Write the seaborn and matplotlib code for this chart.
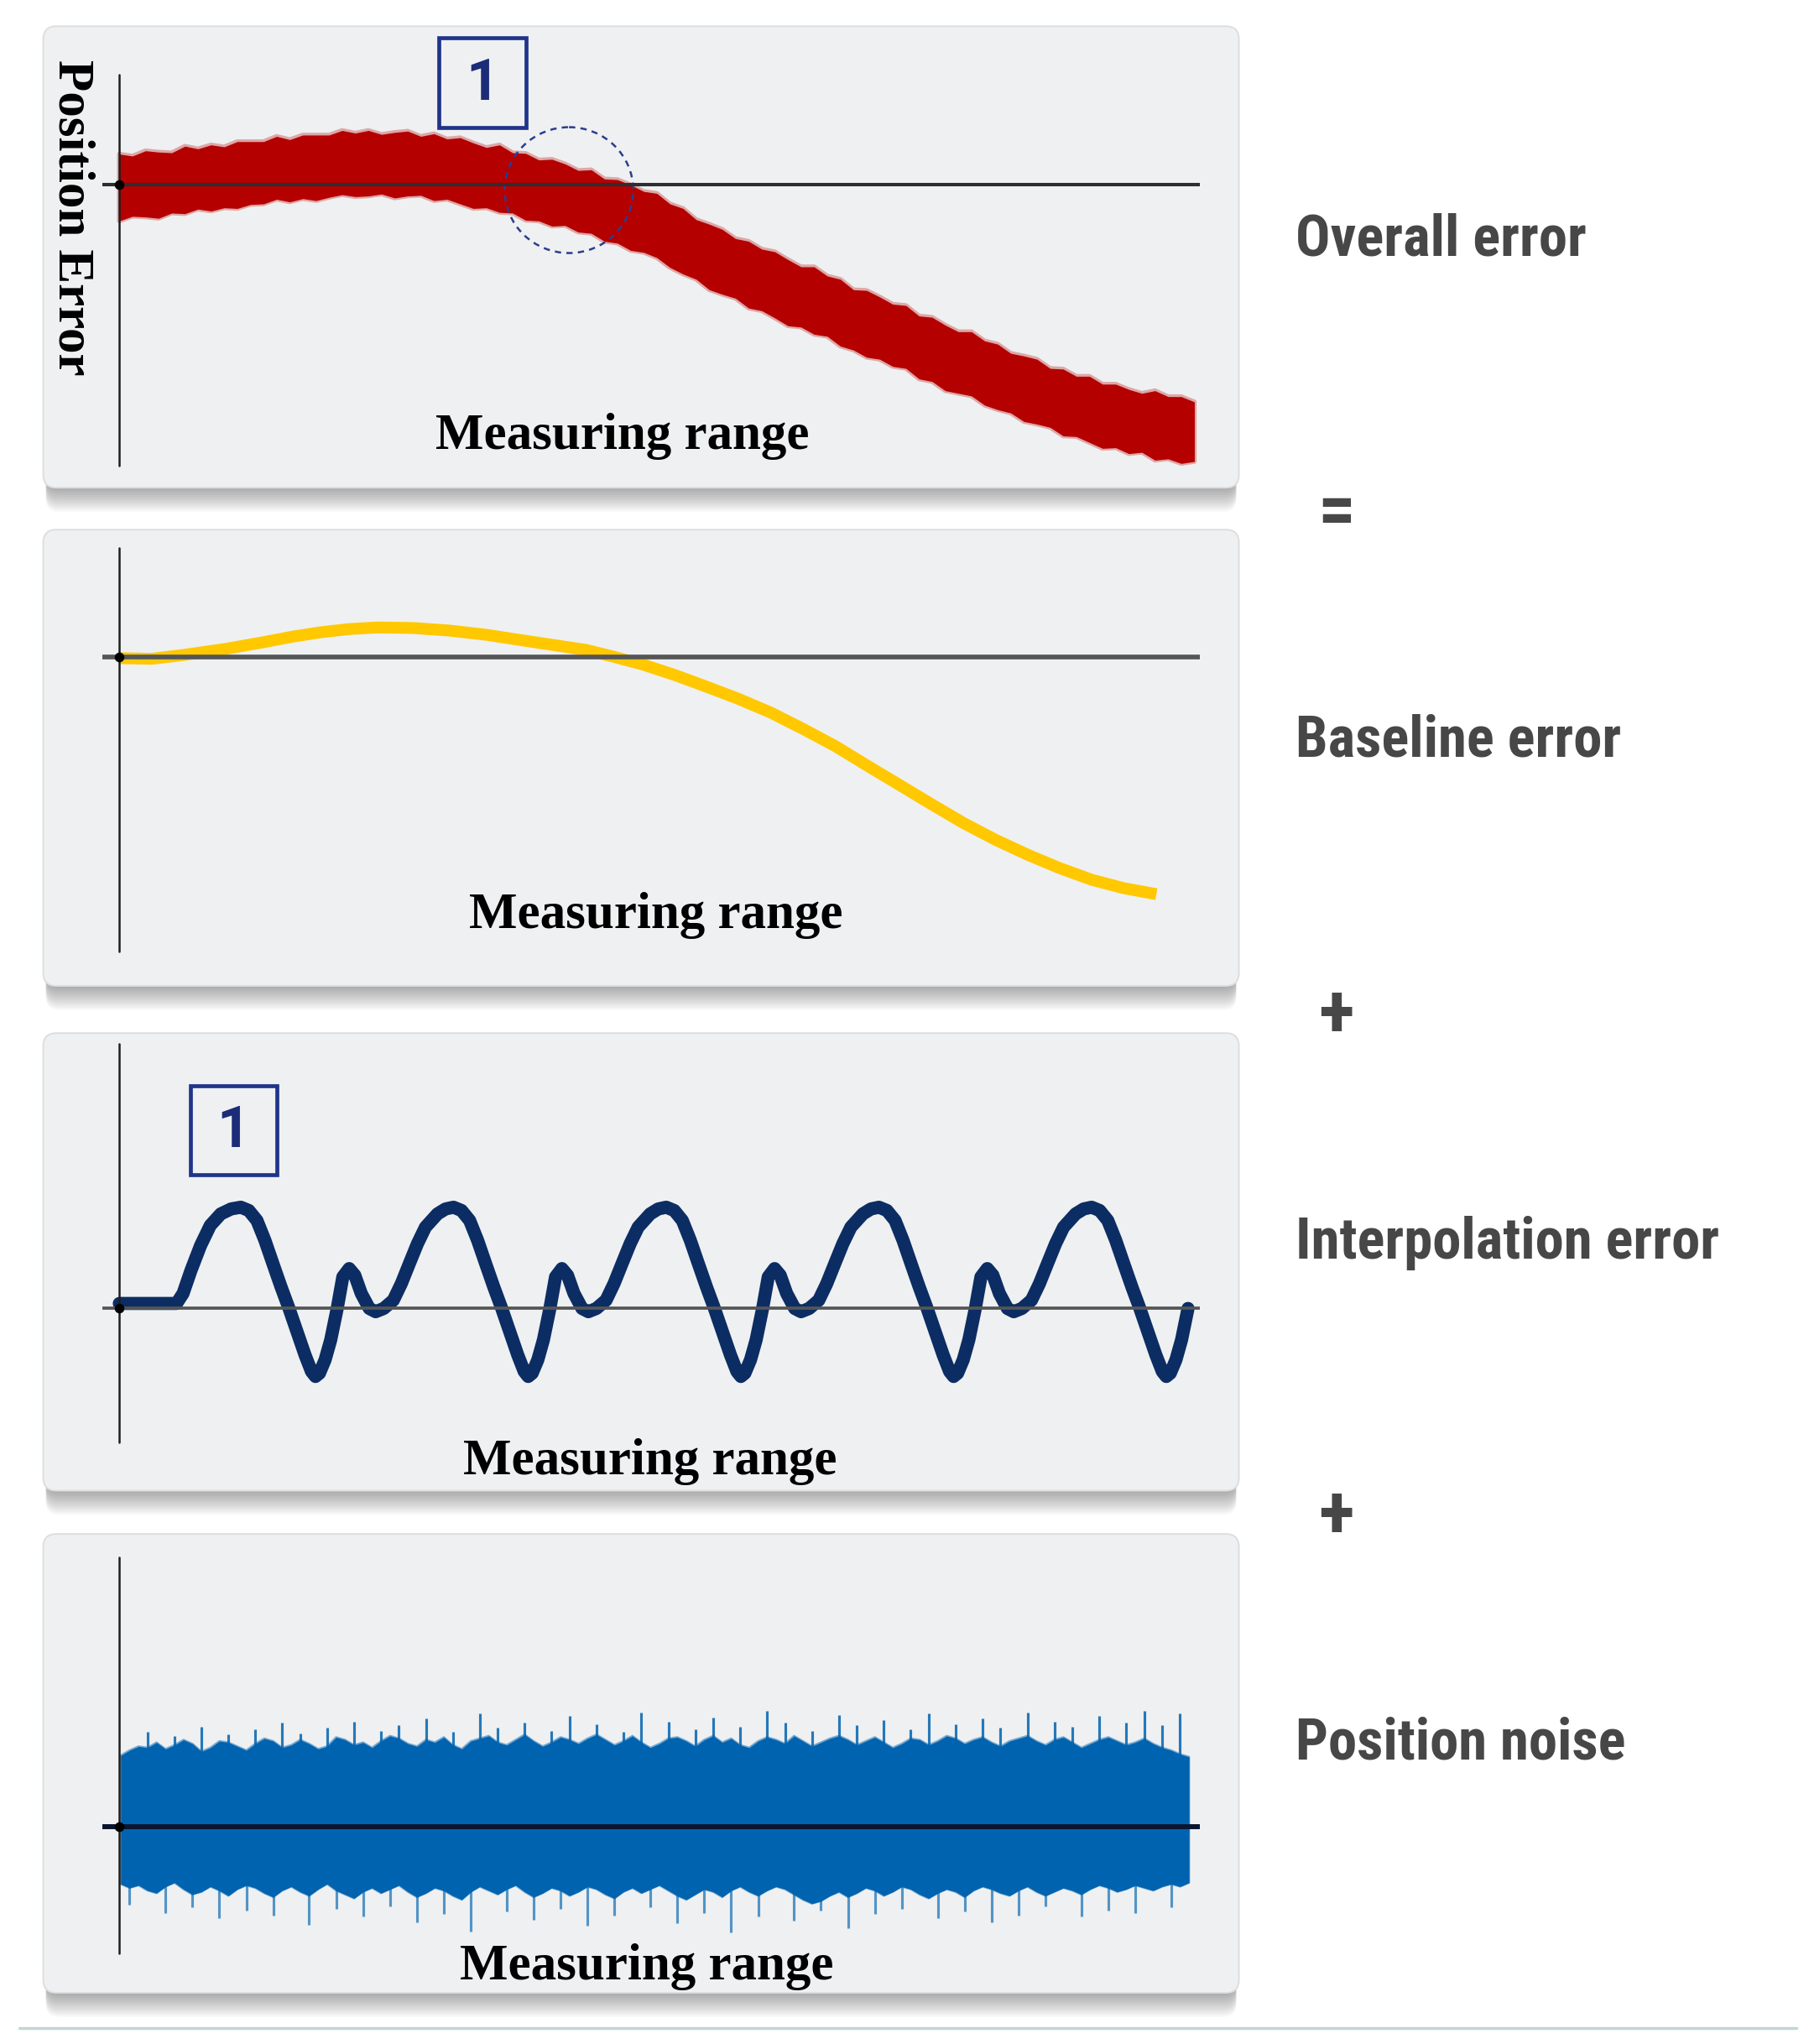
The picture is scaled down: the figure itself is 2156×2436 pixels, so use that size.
import numpy as np
import matplotlib
matplotlib.use('Agg')
import matplotlib.pyplot as plt
from matplotlib import font_manager
from matplotlib.patches import FancyBboxPatch, Rectangle, Ellipse
import seaborn as sns

# ---------------- data ----------------
# overall error: jagged red band, one sample every ~10 px of the range
red_upper = [2.35, 2.2, 2.6, 2.5, 2.45, 2.95, 2.75, 3.05, 2.9, 3.3, 3.3, 3.3, 3.7, 3.45, 3.8,
             3.8, 3.8, 4.15, 3.95, 4.15, 3.85, 4.0, 4.1, 3.7, 3.9, 3.5, 3.6, 3.2, 2.85, 3.05,
             2.45, 2.4, 1.9, 1.95, 1.6, 1.1, 1.15, 0.45, 0.4, 0.0, -0.5, -0.65, -1.45, -1.8,
             -2.65, -3.0, -3.4, -4.1, -4.3, -4.9, -5.1, -5.7, -6.25, -6.25, -6.95, -7.2, -8.0,
             -8.05, -8.55, -9.1, -9.2, -10.0, -10.1, -10.7, -11.2, -11.2, -11.9, -12.15, -12.85,
             -13.05, -13.3, -14.0, -14.05, -14.6, -14.6, -15.2, -15.2, -15.6, -15.9, -15.7,
             -16.15, -16.15, -16.55]
red_lower = [-2.75, -2.4, -2.45, -2.55, -2.15, -2.2, -1.85, -2.0, -1.75, -1.8, -1.5, -1.45,
             -1.1, -1.3, -1.05, -1.2, -0.95, -0.75, -0.9, -0.85, -0.7, -1.0, -0.85, -0.8, -1.2,
             -1.1, -1.45, -1.8, -1.75, -2.1, -2.15, -2.7, -2.75, -3.15, -3.1, -3.6, -3.7, -4.3,
             -4.45, -5.0, -5.15, -5.55, -6.3, -6.8, -7.2, -8.0, -8.35, -8.65, -9.4, -9.6, -10.15,
             -10.75, -10.85, -11.4, -11.55, -12.3, -12.6, -13.15, -13.3, -13.85, -14.0, -14.8,
             -15.0, -15.7, -15.9, -16.1, -16.8, -17.15, -17.4, -18.05, -18.25, -18.5, -19.15,
             -19.2, -19.65, -20.1, -20.05, -20.5, -20.4, -21.0, -20.9, -21.25, -21.1]

# baseline error (measuring range 0..100)
base_x = [0.1, 3.0, 6.1, 9.8, 13.5, 16.1, 18.7, 21.3, 23.9, 27.2, 30.6, 34.0, 37.3, 40.2, 43.2,
          45.8, 48.4, 51.4, 54.4, 57.3, 60.3, 63.3, 66.3, 69.2, 72.2, 75.2, 78.2, 81.1, 84.1,
          87.0, 90.0, 93.0, 96.0]
base_y = [-0.1, -0.15, 0.16, 0.6, 1.14, 1.55, 1.88, 2.12, 2.24, 2.2, 2.0, 1.68, 1.26, 0.9,
          0.53, 0.0, -0.57, -1.38, -2.29, -3.2, -4.25, -5.5, -6.82, -8.28, -9.76, -11.25,
          -12.7, -13.95, -15.1, -16.1, -17.0, -17.65, -18.1]

# interpolation error (measuring range 0..100)
interp_x = [0.0, 5.30, 5.90, 6.64, 7.53, 8.42, 9.39, 10.35,
            11.25, 11.99, 12.74, 13.48, 14.22, 14.97, 15.71, 16.45, 17.19, 17.79, 18.16, 18.53,
            19.05, 19.57, 20.17, 20.69, 21.28, 21.80, 22.40, 23.14, 23.73, 24.48, 25.37, 26.11,
            26.85, 27.60, 28.34, 29.45, 30.20,
            30.94, 31.68, 32.43, 33.17, 33.91, 34.66, 35.40, 36.14, 36.88, 37.48, 37.85, 38.22,
            38.74, 39.26, 39.86, 40.38, 40.97, 41.49, 42.09, 42.83, 43.42, 44.17, 45.06, 45.80,
            46.54, 47.29, 48.03, 49.14, 49.89,
            50.63, 51.37, 52.12, 52.86, 53.60, 54.35, 55.09, 55.83, 56.57, 57.17, 57.54, 57.91,
            58.43, 58.95, 59.55, 60.07, 60.66, 61.18, 61.78, 62.52, 63.11, 63.86, 64.75, 65.49,
            66.23, 66.98, 67.72, 68.83, 69.58,
            70.32, 71.06, 71.81, 72.55, 73.29, 74.04, 74.78, 75.52, 76.26, 76.86, 77.23, 77.60,
            78.12, 78.64, 79.24, 79.76, 80.35, 80.87, 81.47, 82.21, 82.80, 83.55, 84.44, 85.18,
            85.92, 86.67, 87.41, 88.52, 89.27,
            90.01, 90.75, 91.50, 92.24, 92.98, 93.73, 94.47, 95.21, 95.95, 96.55, 96.92, 97.29,
            97.81, 98.33, 98.93]
interp_y = [0.38, 0.38, 1.14, 2.91, 4.81, 6.33, 7.21, 7.59,
            7.72, 7.47, 6.71, 5.19, 3.42, 1.65, 0.0, -1.77, -3.54, -4.81, -5.19, -4.94, -3.92,
            -2.40, 0.0, 2.40, 3.04, 2.53, 1.14, 0.0, -0.25, 0.0, 0.63, 1.90, 3.42, 4.94, 6.20,
            7.21, 7.59,
            7.72, 7.47, 6.71, 5.19, 3.42, 1.65, 0.0, -1.77, -3.54, -4.81, -5.19, -4.94, -3.92,
            -2.40, 0.0, 2.40, 3.04, 2.53, 1.14, 0.0, -0.25, 0.0, 0.63, 1.90, 3.42, 4.94, 6.20,
            7.21, 7.59,
            7.72, 7.47, 6.71, 5.19, 3.42, 1.65, 0.0, -1.77, -3.54, -4.81, -5.19, -4.94, -3.92,
            -2.40, 0.0, 2.40, 3.04, 2.53, 1.14, 0.0, -0.25, 0.0, 0.63, 1.90, 3.42, 4.94, 6.20,
            7.21, 7.59,
            7.72, 7.47, 6.71, 5.19, 3.42, 1.65, 0.0, -1.77, -3.54, -4.81, -5.19, -4.94, -3.92,
            -2.40, 0.0, 2.40, 3.04, 2.53, 1.14, 0.0, -0.25, 0.0, 0.63, 1.90, 3.42, 4.94, 6.20,
            7.21, 7.59,
            7.72, 7.47, 6.71, 5.19, 3.42, 1.65, 0.0, -1.77, -3.54, -4.81, -5.19, -4.94, -3.92,
            -2.40, 0.0]

# position noise: envelope per sample plus the tall single spikes
noise_upper = [5.4, 5.8, 6.1, 6.0, 6.4, 5.9, 6.2, 6.6, 6.3, 5.7,
               6.0, 6.5, 6.4, 6.1, 5.8, 6.3, 6.7, 6.5, 6.0, 6.2,
               6.6, 6.3, 5.9, 6.1, 6.8, 6.6, 6.2, 6.4, 6.0, 6.5,
               6.9, 6.7, 6.3, 6.1, 6.6, 6.4, 6.8, 6.2, 5.9, 6.5,
               6.7, 6.9, 6.4, 6.2, 6.6, 7.0, 6.5, 6.1, 6.4, 6.8,
               6.6, 6.3, 6.7, 7.0, 6.6, 6.2, 6.5, 6.9, 6.4, 6.0,
               6.3, 6.7, 6.8, 6.5, 6.1, 6.6, 6.9, 6.4, 6.7, 6.2,
               6.0, 6.5, 6.8, 6.6, 6.3, 6.9, 6.5, 6.1, 6.4, 6.7,
               6.9, 6.6, 6.2, 6.5, 6.8, 6.4, 6.0, 6.3, 6.7, 6.6,
               6.2, 6.5, 6.9, 6.7, 6.3, 6.6, 6.8, 6.4, 6.1, 6.5,
               6.7, 6.9, 6.5, 6.2, 6.6, 6.8, 6.4, 6.0, 6.3, 6.6,
               6.8, 6.5, 6.2, 6.4, 6.7, 6.3, 6.0, 5.8, 5.5, 5.3]
noise_lower = [-4.4, -4.7, -4.5, -4.9, -5.1, -4.6, -4.3, -4.8, -5.2, -5.0,
               -4.6, -4.9, -5.3, -4.8, -4.5, -4.7, -5.1, -5.4, -4.9, -4.6,
               -5.0, -5.3, -4.8, -4.4, -4.9, -5.2, -5.5, -5.0, -4.7, -5.1,
               -4.8, -4.5, -5.0, -5.4, -5.1, -4.7, -4.9, -5.3, -5.6, -5.0,
               -4.6, -4.9, -5.2, -4.8, -4.5, -5.0, -5.4, -5.1, -4.7, -4.9,
               -5.3, -5.0, -4.6, -4.8, -5.2, -5.5, -5.0, -4.7, -5.1, -4.8,
               -4.5, -4.9, -5.3, -5.6, -5.2, -4.8, -5.0, -5.4, -4.9, -4.6,
               -5.0, -5.3, -4.9, -4.6, -4.8, -5.2, -5.6, -5.9, -5.7, -5.3,
               -5.0, -5.4, -5.1, -4.7, -4.9, -5.3, -5.0, -4.6, -4.8, -5.2,
               -5.5, -5.1, -4.8, -5.0, -5.4, -4.9, -4.6, -4.8, -5.1, -5.3,
               -4.9, -4.6, -5.0, -5.3, -5.0, -4.7, -4.9, -5.2, -4.8, -4.5,
               -4.7, -5.0, -4.8, -4.5, -4.7, -4.9, -4.6, -4.4, -4.6, -4.3]
spike_up_idx = [3, 6, 9, 12, 15, 18, 20, 23, 26, 29, 31, 34, 37, 40, 42, 45, 48, 50, 53, 56,
                58, 61, 64, 66, 69, 72, 74, 77, 80, 82, 85, 88, 90, 93, 96, 98, 101, 104, 106,
                109, 112, 114, 116, 118]
spike_up_val = [7.2, 6.9, 7.6, 7.0, 7.4, 7.9, 7.1, 7.5, 8.0, 7.3, 7.7, 8.2, 7.2, 8.6, 7.5, 7.9,
                7.3, 8.4, 7.8, 7.2, 8.7, 8.0, 7.4, 8.3, 7.6, 8.8, 7.9, 7.3, 8.5, 7.7, 8.1, 7.4,
                8.6, 7.8, 8.2, 7.5, 8.7, 8.0, 7.6, 8.4, 7.9, 8.8, 7.7, 8.6]
spike_dn_idx = [1, 5, 8, 11, 14, 17, 21, 24, 27, 30, 33, 36, 39, 43, 46, 49, 52, 55, 59, 62,
                65, 68, 71, 75, 78, 81, 84, 87, 91, 94, 97, 100, 103, 107, 110, 113, 117]
spike_dn_val = [-6.0, -6.6, -6.2, -7.0, -6.4, -6.8, -7.5, -6.3, -6.9, -6.1, -7.3, -6.7, -8.0,
                -6.5, -7.1, -6.3, -7.6, -6.8, -6.2, -7.4, -6.6, -8.1, -6.9, -7.2, -6.4, -7.8,
                -6.7, -6.3, -7.0, -6.5, -7.3, -6.8, -6.1, -6.9, -6.4, -6.6, -6.2]

row_labels = ['Overall error', 'Baseline error', 'Interpolation error', 'Position noise']
row_ops = ['=', '+', '+']
axis_text = 'Measuring range'
y_text = 'Position Error'

# ---------------- layout (in screen units of the reference) ----------------
W, H = 2156 / 1.5625, 2436 / 1.5625
S = 1.125   # points per screen unit
box_l, box_r = 33, 945
p_top = [20, 404, 788, 1170]
p_bot = [372, 752, 1137, 1520]
p_zero = [141, 501, 998, 1393]
ax_top = [57, 418, 796, 1188]
ax_bot = [355, 726, 1100, 1490]
label_y = [183, 565, 948, 1330]
op_y = [392, 775, 1157]
mr_pos = [(475, 333), (500, 698), (496, 1115), (493, 1500)]

sns.set_theme(style='white')
names = {f.name for f in font_manager.fontManager.ttflist}
if 'Liberation Sans Narrow' in names:
    lab_font, lab_size = 'Liberation Sans Narrow', 44 * S
elif 'Roboto Condensed' in names:
    lab_font, lab_size = 'Roboto Condensed', 44 * S
else:
    lab_font, lab_size = 'Roboto', 39 * S
plt.rcParams['font.family'] = ['DejaVu Sans']

fig = plt.figure(figsize=(21.56, 24.36), dpi=100)
fig.patch.set_facecolor('white')

bg = fig.add_axes([0, 0, 1, 1])
bg.set_xlim(0, W)
bg.set_ylim(H, 0)
bg.axis('off')

for t, b in zip(p_top, p_bot):
    for k in range(10):
        off = 2 + k * 1.8
        bg.add_patch(FancyBboxPatch((box_l + 2, t + off), box_r - box_l - 4, b - t,
                                    boxstyle='round,pad=0,rounding_size=10',
                                    facecolor='black', alpha=0.035, lw=0))
    bg.add_patch(FancyBboxPatch((box_l, t), box_r - box_l, b - t,
                                boxstyle='round,pad=0,rounding_size=10',
                                facecolor='#eff0f1', edgecolor='#dcdddf', lw=1.2 * S))


def data_axes(i, x0, dx):
    # x0: screen x of data x=0, dx: screen units per data unit, y: 10 units per data unit
    ax = fig.add_axes([box_l / W, 1 - p_bot[i] / H, (box_r - box_l) / W, (p_bot[i] - p_top[i]) / H])
    ax.set_xlim((box_l - x0) / dx, (box_r - x0) / dx)
    ax.set_ylim((p_zero[i] - p_bot[i]) / 10, (p_zero[i] - p_top[i]) / 10)
    ax.axis('off')
    ax.patch.set_alpha(0)
    return ax


# overall error
ax1 = data_axes(0, 91, 10)
red_idx = np.arange(len(red_upper))
ax1.fill_between(red_idx, red_lower, red_upper, facecolor='none', edgecolor='#b50000',
                 lw=3.5 * S, alpha=0.3)
ax1.fill_between(red_idx, red_lower, red_upper, color='#b50000', lw=0)

# baseline error
ax2 = data_axes(1, 91, 8.24)
sns.lineplot(x=base_x, y=base_y, ax=ax2, color='#ffc800', linewidth=9 * S, sort=False,
             estimator=None, legend=False, solid_capstyle='butt', solid_joinstyle='round')

# interpolation error
ax3 = data_axes(2, 91, 8.24)
sns.lineplot(x=interp_x, y=interp_y, ax=ax3, color='#0c2d63', linewidth=10 * S, sort=False,
             estimator=None, legend=False, solid_capstyle='round', solid_joinstyle='round')

# position noise
ax4 = data_axes(3, 92, 815 / (len(noise_upper) - 1))
n_idx = np.arange(len(noise_upper))
ax4.fill_between(n_idx, noise_lower, noise_upper, facecolor='none', edgecolor='#0063af',
                 lw=1.5 * S, alpha=0.5)
ax4.fill_between(n_idx, noise_lower, noise_upper, color='#0063af', lw=0)
ax4.vlines(spike_up_idx, 0, spike_up_val, color='#0063af', lw=2 * S, alpha=0.85)
ax4.vlines(spike_dn_idx, 0, spike_dn_val, color='#0063af', lw=2 * S, alpha=0.65)

# ---------------- overlay: axes lines, markers, text ----------------
ov = fig.add_axes([0, 0, 1, 1])
ov.set_xlim(0, W)
ov.set_ylim(H, 0)
ov.axis('off')
ov.patch.set_alpha(0)

zero_col = ['#2e2e2e', '#555555', '#555555', '#0a1630']
zero_lw = [2.6, 3.6, 2.4, 3.8]
for i in range(4):
    ov.plot([78, 915], [p_zero[i], p_zero[i]], color=zero_col[i], lw=zero_lw[i] * S,
            solid_capstyle='butt')
    ov.plot([91, 91], [ax_top[i], ax_bot[i]], color='#1e1e1e', lw=1.6 * S)
    ov.plot([91], [p_zero[i]], 'o', color='black', ms=6.5 * S)
    ov.text(mr_pos[i][0], mr_pos[i][1], axis_text, family='Liberation Serif', weight='bold',
            fontsize=39 * S, ha='center', va='center', color='black')

ov.text(55, 166, y_text, family='Liberation Serif', weight='bold', fontsize=39 * S,
        rotation=270, ha='center', va='center', color='black')

for (bx, by) in [(335, 29), (145, 828)]:
    ov.add_patch(Rectangle((bx, by), 66, 68, facecolor='none', edgecolor='#1f3489', lw=3 * S))
    ov.text(bx + 33, by + 35, '1', family=['Roboto', 'DejaVu Sans'], weight='bold',
            fontsize=44 * S, ha='center', va='center', color='#1b2c78')

ov.add_patch(Ellipse((434, 145), 98, 96, fill=False, edgecolor='#2b3d8f', lw=1.6 * S,
                     linestyle=(0, (3, 2.5))))

for y, lab in zip(label_y, row_labels):
    ov.text(988, y, lab, family=[lab_font, 'DejaVu Sans'], weight='bold', fontsize=lab_size,
            ha='left', va='center', color='#474747')
for y, op in zip(op_y, row_ops):
    ov.text(1019, y, op, family=[lab_font, 'DejaVu Sans'], weight='bold', fontsize=lab_size * 1.3,
            ha='center', va='center', color='#474747')

ov.plot([15, 1370], [1547, 1547], color='#c3d5d5', lw=2.2 * S)

fig.savefig('out.png', dpi=100)
